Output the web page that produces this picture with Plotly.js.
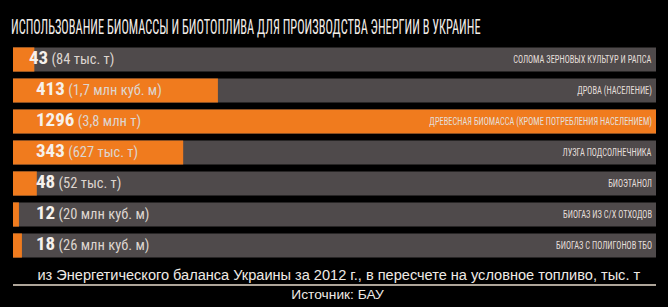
<!DOCTYPE html>
<html>
<head>
<meta charset="utf-8">
<script src="https://cdn.plot.ly/plotly-3.0.1.min.js"></script>
<style>
html,body{margin:0;padding:0;background:#000;}
#chart{width:668px;height:307px;}
</style>
</head>
<body>
<div id="chart"></div>
<script>
// Data
var categories = [
  "СОЛОМА ЗЕРНОВЫХ КУЛЬТУР И РАПСА",
  "ДРОВА (НАСЕЛЕНИЕ)",
  "ДРЕВЕСНАЯ БИОМАССА (КРОМЕ ПОТРЕБЛЕНИЯ НАСЕЛЕНИЕМ)",
  "ЛУЗГА ПОДСОЛНЕЧНИКА",
  "БИОЭТАНОЛ",
  "БИОГАЗ ИЗ С/Х ОТХОДОВ",
  "БИОГАЗ С ПОЛИГОНОВ ТБО"
];
var values = [43, 413, 1296, 343, 48, 12, 18];
var physical = [
  "(84 тыс. т)",
  "(1,7 млн куб. м)",
  "(3,8 млн т)",
  "(627 тыс. т)",
  "(52 тыс. т)",
  "(20 млн куб. м)",
  "(26 млн куб. м)"
];
var titleText = "ИСПОЛЬЗОВАНИЕ БИОМАССЫ И БИОТОПЛИВА ДЛЯ ПРОИЗВОДСТВА ЭНЕРГИИ В УКРАИНЕ";
var noteText = "из Энергетического баланса Украины за 2012 г., в пересчете на условное топливо, тыс. т";
var sourceText = "Источник: БАУ";

var FAM = "'Roboto', 'Open Sans', 'Noto Sans', sans-serif";
var FAM2 = "'Liberation Sans', Arial, sans-serif";
var ORANGE = "#f07b1e";
var GRAY = "#4f4a4b";

function cond(t, extra) {
  return "<span style='font-stretch:condensed" + (extra ? ";" + extra : "") + "'>" + t + "</span>";
}

var maxVal = Math.max.apply(null, values);
var track = values.map(function(){ return maxVal; });
var PLOT_W = 643; // plot area width in px
// left position of the value labels, converted from pixels to data units
var labelX = categories.map(function(c, i){ return (i === 0 ? 16 : 23) / PLOT_W * maxVal; });
var labelText = categories.map(function(c, i){
  return cond("<b>" + values[i] + "</b>") + cond(" " + physical[i], "font-size:14.5px;color:#ddd5cf");
});

var traces = [
  {type:"bar", orientation:"h", y:categories, x:track, marker:{color:GRAY},
   hoverinfo:"skip", showlegend:false},
  {type:"bar", orientation:"h", y:categories, x:values, marker:{color:ORANGE},
   hoverinfo:"skip", showlegend:false},
  {type:"scatter", mode:"text", y:categories, x:labelX, text:labelText,
   textposition:"middle right", textfont:{family:FAM, size:19, color:"#f6f1ec"},
   cliponaxis:false, hoverinfo:"skip", showlegend:false}
];

var annotations = [];
categories.forEach(function(c, i){
  annotations.push({
    xref:"paper", yref:"y", x:1, y:c, xshift:-3, xanchor:"right", yanchor:"middle",
    align:"right", showarrow:false, text:cond(c),
    font:{family:FAM, size:10, color:"#e4dfda"}
  });
});
annotations.push({
  xref:"paper", yref:"paper", x:0.5, y:-14/217, xanchor:"center", yanchor:"middle",
  showarrow:false, text:noteText,
  font:{family:FAM2, size:14.5, color:"#efeae5"}
});
annotations.push({
  xref:"paper", yref:"paper", x:0.5, y:-33.5/217, xanchor:"center", yanchor:"middle",
  showarrow:false, text:sourceText,
  font:{family:FAM2, size:12, color:"#efeae5"}
});

var layout = {
  width:668, height:307,
  paper_bgcolor:"#000", plot_bgcolor:"#000",
  margin:{l:13, r:12, t:44, b:46, pad:0},
  barmode:"overlay", bargap:0.22, showlegend:false,
  title:{text:cond(titleText), xref:"container", yref:"container", x:11/668, xanchor:"left",
         y:1-27/307, yanchor:"middle",
         font:{family:FAM, size:19.5, color:"#f2ede8"}},
  xaxis:{range:[0, maxVal], showgrid:false, zeroline:false, showticklabels:false, fixedrange:true},
  yaxis:{autorange:"reversed", showgrid:false, zeroline:false, showticklabels:false, fixedrange:true},
  shapes:[{type:"line", xref:"paper", yref:"paper", x0:0, x1:1, y0:-24/217, y1:-24/217,
           line:{color:"#e8dccd", width:1.5}}],
  annotations:annotations
};

// squeeze a text horizontally by k, then shift so its left/right/center sits at page x px
function place(el, k, mode, px) {
  if (!el) return;
  var shift = 0;
  for (var pass = 0; pass < 2; pass++) {
    el.setAttribute("transform", "translate(" + shift.toFixed(3) + ",0) scale(" + k.toFixed(5) + ",1)");
    var r = el.getBoundingClientRect();
    var cur = mode === "left" ? r.left : mode === "right" ? r.right : (r.left + r.right) / 2;
    shift += px - cur;
  }
  el.setAttribute("transform", "translate(" + shift.toFixed(3) + ",0) scale(" + k.toFixed(5) + ",1)");
}
function width(el) {
  el.removeAttribute("transform");
  return el.getBoundingClientRect().width;
}
function annText(gd, idx) {
  return gd.querySelector("g.annotation[data-index='" + idx + "'] text.annotation-text");
}

Plotly.newPlot("chart", traces, layout, {displayModeBar:false, staticPlot:true}).then(function(gd){
  var n = categories.length;
  // title: span x 11..481
  var t = gd.querySelector("text.gtitle");
  if (t) place(t, 470 / width(t), "left", 11);
  // category labels: the longest one spans 429..652
  var kc = 223 / width(annText(gd, 2));
  for (var i = 0; i < n; i++) {
    place(annText(gd, i), kc, "right", 652);
  }
  var note = annText(gd, n);
  place(note, 604 / width(note), "center", 339);
  var src = annText(gd, n + 1);
  place(src, 93 / width(src), "center", 338);
});
</script>
</body>
</html>
